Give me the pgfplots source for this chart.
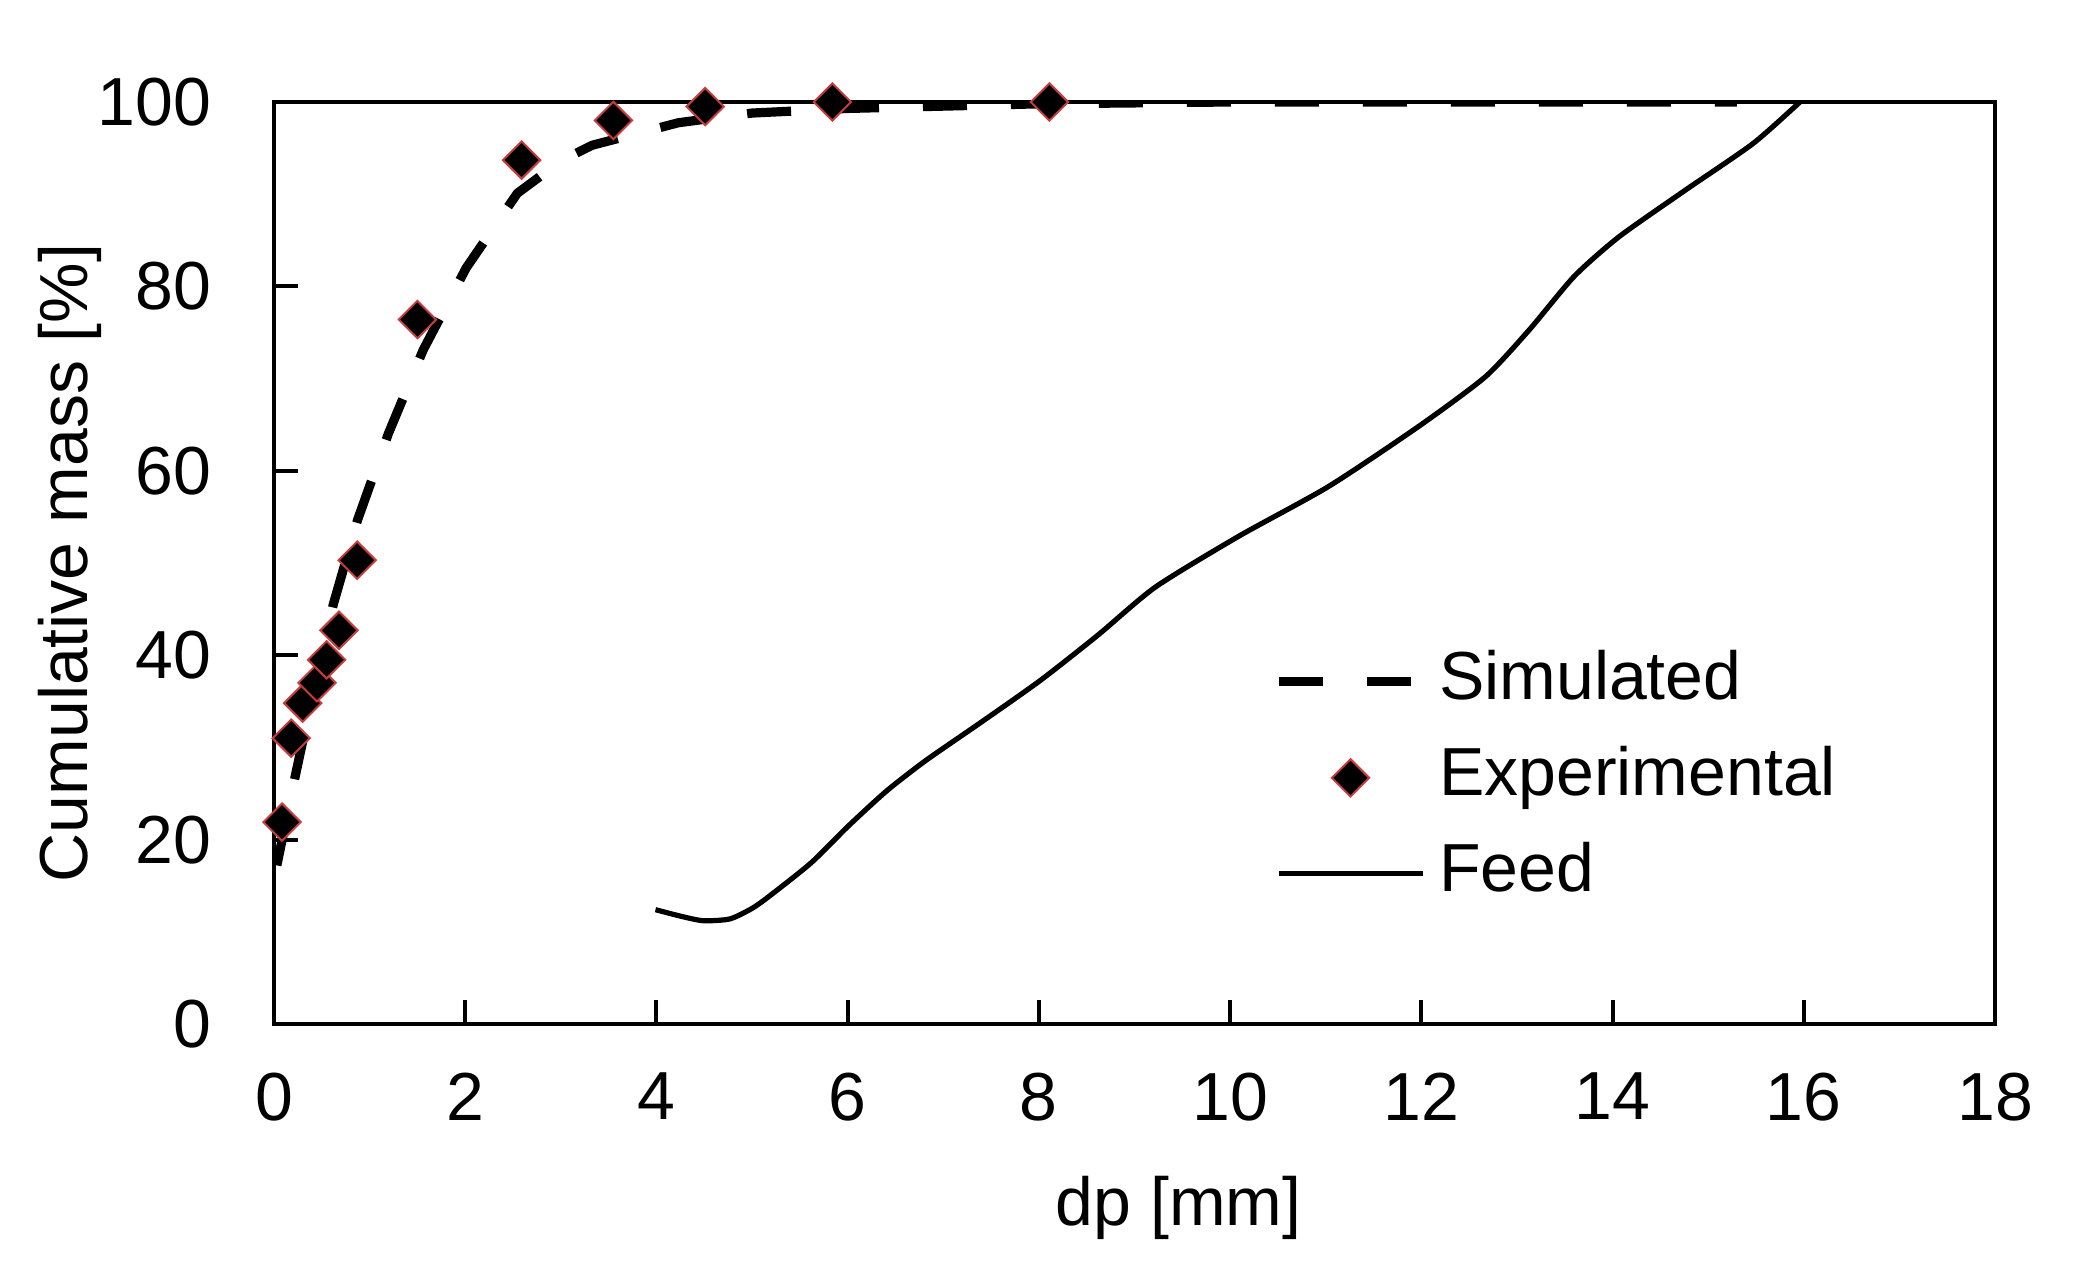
\documentclass[border=0pt]{standalone}
\usepackage{fontspec}
\setmainfont{Liberation Sans}
\usepackage{pgfplots}
\pgfplotsset{compat=1.18}
\pgfplotsset{
  legline/.style={legend image code/.code={\draw[##1] (0pt,0pt) -- (36pt,0pt);}},
  legmark/.style={legend image code/.code={\draw[mark repeat=2,mark phase=2,##1] plot coordinates {(0pt,0pt) (18pt,0pt) (36pt,0pt)};}},
}
\begin{document}
\begin{tikzpicture}
\useasboundingbox (-68.5pt,-62.25pt) rectangle (451.25pt,256pt);
\begin{axis}[
  at={(0,0)}, anchor=south west,
  scale only axis, width=430.25pt, height=230.5pt,
  xmin=0, xmax=18, ymin=0, ymax=100,
  xtick={0,2,...,18}, ytick={0,20,...,100},
  tick pos=left, tick align=inside, major tick length=6pt,
  axis line style={line width=1pt},
  every tick/.style={line width=1pt, black},
  /pgf/number format/assume math mode=true,
  tick label style={font=\fontsize{17}{20}\selectfont, inner sep=0pt},
  xticklabel style={yshift=-12pt},
  yticklabel style={xshift=-15.5pt},
  xlabel={dp [mm]}, ylabel={Cumulative mass [\%]},
  label style={font=\fontsize{17}{20}\selectfont},
  xlabel style={at={(axis description cs:0.5256,-0.1638)}, anchor=north, inner sep=0pt},
  ylabel style={at={(axis description cs:-0.1185,0.5)}, anchor=center, inner sep=0pt},
  legend cell align=left,
  legend style={at={(axis cs:10.45,26.7)}, anchor=west, draw=none, fill=none, inner sep=0pt,
    font=\fontsize{17}{20}\selectfont, row sep=6pt,
    nodes={inner sep=1pt, text height=12.5pt, text depth=3.5pt},
    /tikz/every odd column/.append style={column sep=2pt}},
]
\addplot[black, line width=2.3pt, dash pattern=on 11pt off 11pt, legline]
coordinates {
(0.03,17.2) (0.20,25.8) (0.40,35.5) (0.62,45.5) (0.875,54.7) (1.195,64.0)
(1.56,73.1) (2.01,82.0) (2.545,90.1) (3.0,93.6) (3.325,95.3) (4.23,97.75)
(5.0,98.8) (6.0,99.3) (8.0,99.8) (10.0,100) (15.3,100)
};
\addlegendentry{Simulated}
\addplot[only marks, mark=square*, mark size=3.3pt,
  mark options={rotate=45, fill=black, draw={rgb,255:red,200;green,60;blue,60}, line width=0.5pt, solid},
  legmark]
coordinates {
(0.084,21.9) (0.18,31.0) (0.30,34.8) (0.45,37.0) (0.55,39.5) (0.68,42.7)
(0.87,50.3) (1.50,76.4) (2.59,93.7) (3.55,98.0) (4.51,99.5) (5.84,100) (8.11,100)
};
\addlegendentry{Experimental}
\addplot[black, line width=1.3pt, smooth, tension=0.4, legline]
coordinates {
(3.99,12.4) (4.25,11.7) (4.49,11.2) (4.77,11.4) (5.01,12.6) (5.21,14.1)
(5.62,17.5) (6.02,21.6) (6.41,25.3) (6.82,28.6) (7.42,32.9) (8.02,37.3)
(8.62,42.2) (9.22,47.4) (10.09,52.9) (11.03,58.3) (11.97,64.8) (12.67,70.2)
(13.13,75.3) (13.6,81.1) (14.07,85.4) (14.77,90.5) (15.47,95.5) (15.96,100)
};
\addlegendentry{Feed}
\end{axis}
\end{tikzpicture}
\end{document}
